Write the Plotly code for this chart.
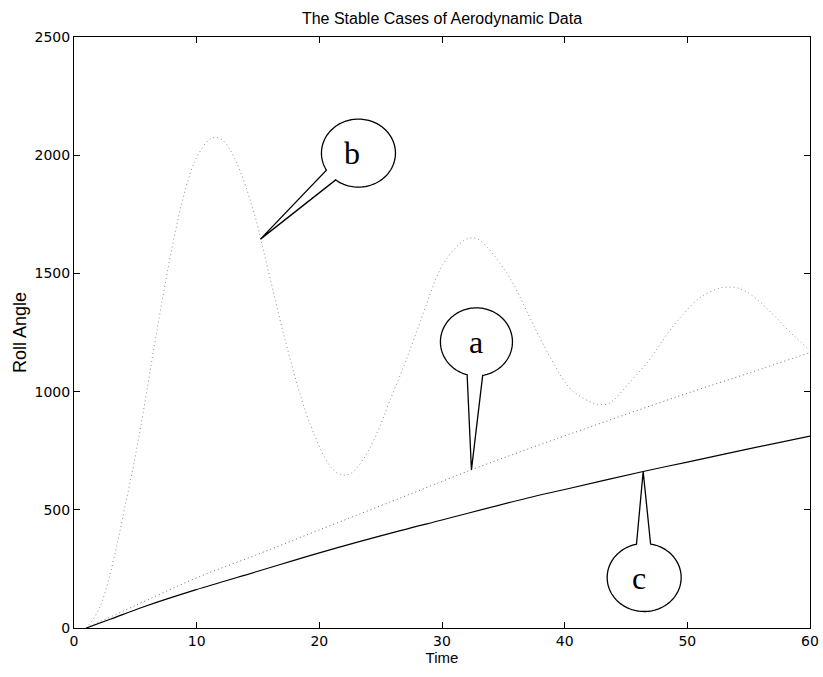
import numpy as np
import plotly.graph_objects as go

# ---- data -------------------------------------------------------------
time_a = [1.0, 5.0, 9.9, 15.0, 20.0, 26.6, 32.4, 37.0, 41.5, 49.2, 55.0, 60.0]
roll_a = [0, 95, 210, 312, 415, 550, 669, 757, 840, 979, 1078, 1165]

time_b = [1.0, 1.6, 2.2, 2.8, 3.5, 4.1, 4.9, 5.7, 6.7, 8.0, 9.1, 10.0, 11.0,
          11.6, 12.2, 13.2, 14.6, 15.8, 17.2, 18.6, 19.5, 20.8, 21.7, 22.5,
          23.6, 24.7, 25.7, 26.9, 27.7, 28.6, 30.1, 31.8, 32.5, 33.1, 35.3,
          37.1, 38.0, 39.1, 40.5, 42.4, 43.1, 43.7, 45.4, 47.0, 48.3, 49.7,
          51.1, 52.6, 53.5, 54.3, 55.4, 57.0, 58.7, 60.0]
roll_b = [0, 40, 100, 200, 350, 500, 700, 930, 1240, 1610, 1860, 1990, 2065,
          2075, 2060, 1975, 1770, 1520, 1220, 960, 830, 690, 650, 652,
          715, 825, 955, 1110, 1220, 1350, 1540, 1640, 1650, 1640, 1500,
          1320, 1225, 1120, 1010, 950, 945, 952, 1045, 1140, 1240, 1330,
          1400, 1437, 1442, 1435, 1402, 1325, 1235, 1175]

time_c = [1.0, 3.0, 5.7, 9.9, 15.0, 20.0, 26.6, 30.0, 36.9, 40.0, 46.4, 50.0, 55.0, 60.0]
roll_c = [0, 38, 90, 161, 240, 318, 412, 457, 549, 586, 662, 702, 758, 812]

x_ticks = [0, 10, 20, 30, 40, 50, 60]
y_ticks = [0, 500, 1000, 1500, 2000, 2500]

# callout labels: (label, series time, series values, tip time)
callouts = [
    ("b", time_b, roll_b, 15.2),
    ("a", time_a, roll_a, 32.4),
    ("c", time_c, roll_c, 46.4),
]

# ---- geometry ---------------------------------------------------------
W, H = 823, 677
M = dict(l=74, r=13, t=37, b=49)
X_RANGE = [0, 60]
Y_RANGE = [0, 2500]
px_x = (W - M["l"] - M["r"]) / (X_RANGE[1] - X_RANGE[0])
px_y = (H - M["t"] - M["b"]) / (Y_RANGE[1] - Y_RANGE[0])

# balloon layout in screen pixels relative to the tip:
# centre offset (dx, dy down), radii, and the angular gap where the tail joins
balloon_style = {
    "b": dict(dx=98, dy=-86, rx=37, ry=34, gap=(128, 150), tx=-6),
    "a": dict(dx=5, dy=-128, rx=36, ry=34, gap=(80, 105), tx=0),
    "c": dict(dx=1, dy=106, rx=37, ry=34, gap=(-102, -80), tx=-5),
}


def balloon(tip_x, tip_y, dx, dy, rx, ry, gap):
    cx = tip_x + dx / px_x
    cy = tip_y - dy / px_y
    th = np.radians(np.linspace(gap[1], gap[0] + 360, 140))
    xs = cx + rx / px_x * np.cos(th)
    ys = cy - ry / px_y * np.sin(th)
    pts = " L ".join(f"{x:.4f},{y:.3f}" for x, y in zip(xs, ys))
    path = f"M {pts} L {tip_x:.4f},{tip_y:.3f} Z"
    return path, cx, cy


fig = go.Figure()

fig.add_trace(go.Scatter(
    x=time_b, y=roll_b, mode="lines", line_shape="spline",
    line=dict(color="#8f8f8f", width=1, dash="1px,3px"), name="b"))
fig.add_trace(go.Scatter(
    x=time_a, y=roll_a, mode="lines", line_shape="spline",
    line=dict(color="#6a6a6a", width=1, dash="1px,3px"), name="a"))
fig.add_trace(go.Scatter(
    x=time_c, y=roll_c, mode="lines", line_shape="spline",
    line=dict(color="black", width=1.2), name="c"))

shapes = []
annotations = []
for label, ts, vs, tip_t in callouts:
    st = balloon_style[label]
    tip_v = float(np.interp(tip_t, ts, vs))
    path, cx, cy = balloon(tip_t, tip_v, st["dx"], st["dy"], st["rx"], st["ry"], st["gap"])
    shapes.append(dict(type="path", path=path, xref="x", yref="y",
                       line=dict(color="black", width=1.3),
                       fillcolor="rgba(0,0,0,0)", layer="above"))
    annotations.append(dict(x=cx + st["tx"] / px_x, y=cy, xref="x", yref="y",
                            text=label, showarrow=False,
                            font=dict(family="Liberation Serif, Times New Roman, serif",
                                      size=32, color="black"),
                            xanchor="center", yanchor="middle"))

TICK_FONT = dict(family="DejaVu Sans, Arial, sans-serif", size=14, color="black")
LABEL_FONT = "Arial, Liberation Sans, Helvetica, sans-serif"

axis_common = dict(
    showline=True, linecolor="black", linewidth=1, mirror="allticks",
    ticks="inside", ticklen=6, tickwidth=1, tickcolor="black",
    showgrid=False, zeroline=False, automargin=False,
    tickfont=TICK_FONT,
)

fig.update_layout(
    width=W, height=H,
    margin=M,
    paper_bgcolor="white", plot_bgcolor="white",
    font=dict(family=LABEL_FONT, size=14, color="black"),
    showlegend=False,
    title=dict(text="The Stable Cases of Aerodynamic Data", x=0.5, xref="paper",
               y=1 - 18 / H, yref="container", yanchor="middle",
               font=dict(family=LABEL_FONT, size=16, color="black")),
    xaxis=dict(range=X_RANGE, tickvals=x_ticks,
               title=dict(text="Time", standoff=0,
                          font=dict(family=LABEL_FONT, size=15)),
               **axis_common),
    yaxis=dict(range=Y_RANGE, tickvals=y_ticks,
               title=dict(text="Roll Angle", standoff=3,
                          font=dict(family=LABEL_FONT, size=18)),
               **axis_common),
    shapes=shapes,
    annotations=annotations,
)

fig.write_html("out.html")
